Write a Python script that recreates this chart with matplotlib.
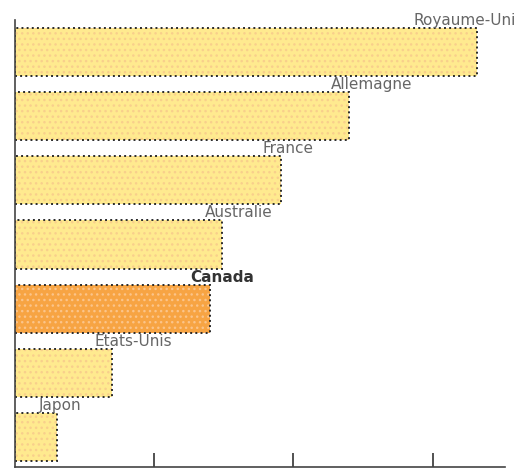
import matplotlib
matplotlib.use('Agg')
import matplotlib.pyplot as plt

pays = ['Japon', 'Etats-Unis', 'Canada', 'Australie', 'France', 'Allemagne', 'Royaume-Uni']
valeurs = [3.0, 7.0, 14.0, 14.9, 19.1, 24.0, 33.2]
xticks = [10, 20, 30]

plt.rcParams['hatch.linewidth'] = 1.0
fig = plt.figure(figsize=(5.19, 4.70), dpi=100)
ax = fig.add_axes([15/519, 3/470, 490/519, 447/470])

pos = list(range(len(pays)))
face = ['#f7a443' if p == 'Canada' else '#ffea8f' for p in pays]
dots = ['#fbc48a' if p == 'Canada' else '#f8cf8c' for p in pays]

# fond + points, puis bordure pointillée
ax.barh(pos, valeurs, height=0.75, color=face, edgecolor=dots, linewidth=0, hatch='...')
ax.barh(pos, valeurs, height=0.75, fill=False, edgecolor='#2a2a2a', linestyle=':', linewidth=1.4)

vmax = max(valeurs)
for p, v, nom in zip(pos, valeurs, pays):
    bold = nom == 'Canada'
    if v == vmax:
        ha, dx = 'right', 39
    else:
        ha, dx = 'left', -20 if bold else -18
    ax.annotate(nom, xy=(v, p + 0.375), xytext=(dx, 3), textcoords='offset pixels',
                ha=ha, va='baseline', fontsize=11,
                color='#333333' if bold else '#666666',
                fontweight='bold' if bold else 'normal', annotation_clip=False)

ax.set_xlim(0, 35.2)
ax.set_ylim(-0.47, 6.5)
ax.set_xticks(xticks)
ax.set_xticklabels([])
ax.set_yticks([])
ax.tick_params(axis='x', direction='in', length=10, width=1.2, color='#333333')
for s in ['top', 'right']:
    ax.spines[s].set_visible(False)
for s in ['left', 'bottom']:
    ax.spines[s].set_color('#444444')
    ax.spines[s].set_linewidth(1.2)

fig.savefig('out.png', dpi=100)
